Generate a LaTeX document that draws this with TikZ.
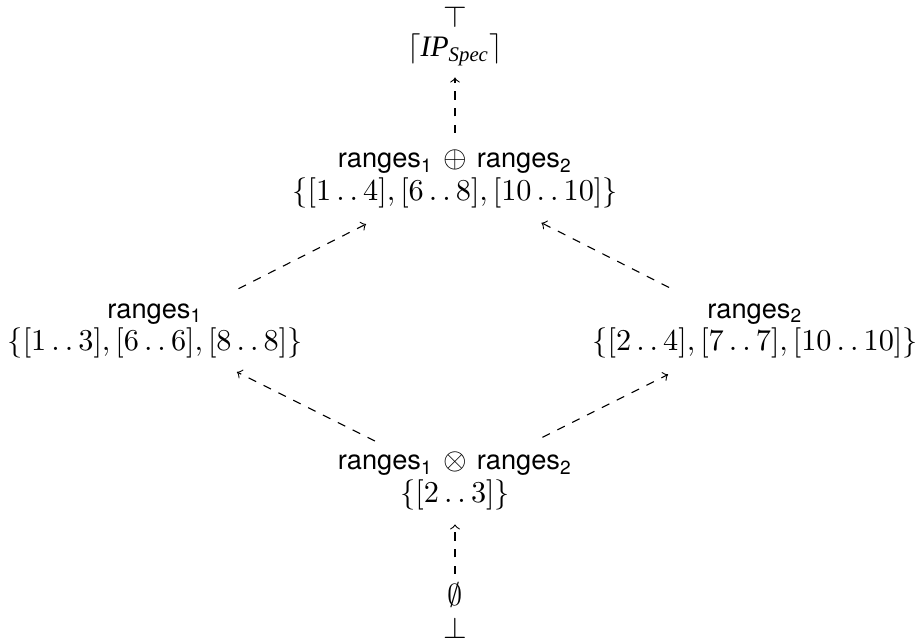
\documentclass[tikz,border=0pt]{standalone}
\usepackage{amsmath}
\usepackage{amssymb}
\usepackage{fontspec}
\setsansfont[Scale=0.87]{TeX Gyre Heros}
\newfontfamily\specfont[Scale=0.95]{Liberation Serif}
\usepackage{tikz}

\newcommand{\upto}{\mathinner{\ldotp\ldotp}}
\newcommand{\rng}[1]{\textsf{ranges}$_{\textsf{#1}}$}
\newcommand{\ipspec}{$\lceil\text{\specfont\itshape IP}_{\text{\specfont\itshape Spec}}\rceil$}

\begin{document}
\fontsize{11.3}{11.8}\selectfont
\begin{tikzpicture}[x=0.0127cm, y=-0.0127cm,
                    every node/.style={align=center, inner sep=2pt},
                    order/.style={->, dashed, shorten <=4pt, shorten >=3pt}]
  \useasboundingbox (0,0) rectangle (919,641);
  % top of the lattice
  \node (top) at (455,17) {$\top$};
  \node (spec) at (455,50) {\ipspec};
  \node (join) at (455,179) {\rng{1} $\oplus$ \rng{2}\\
    $\{[1\upto4],[6\upto8],[10\upto10]\}$};
  % the two inputs
  \node (left) at (155,331) {\rng{1}\\
    $\{[1\upto3],[6\upto6],[8\upto8]\}$};
  \node (right) at (755,331) {\rng{2}\\
    $\{[2\upto4],[7\upto7],[10\upto10]\}$};
  % bottom of the lattice
  \node (meet) at (455,481) {\rng{1} $\otimes$ \rng{2}\\
    $\{[2\upto3]\}$};
  \node (empty) at (455,595) {$\emptyset$};
  \node (bot) at (455,628) {$\bot$};

  \draw[order, shorten <=1pt] (empty) -- (meet);
  \draw[order, shorten >=6pt] (meet) -- (left);
  \draw[order, shorten <=7pt, shorten >=8pt] (meet) -- (right);
  \draw[order, shorten <=7pt, shorten >=8pt] (left) -- (join);
  \draw[order, shorten <=8pt, shorten >=7pt] (right) -- (join);
  \draw[order, shorten >=2pt] (join) -- (spec);
\end{tikzpicture}
\end{document}
